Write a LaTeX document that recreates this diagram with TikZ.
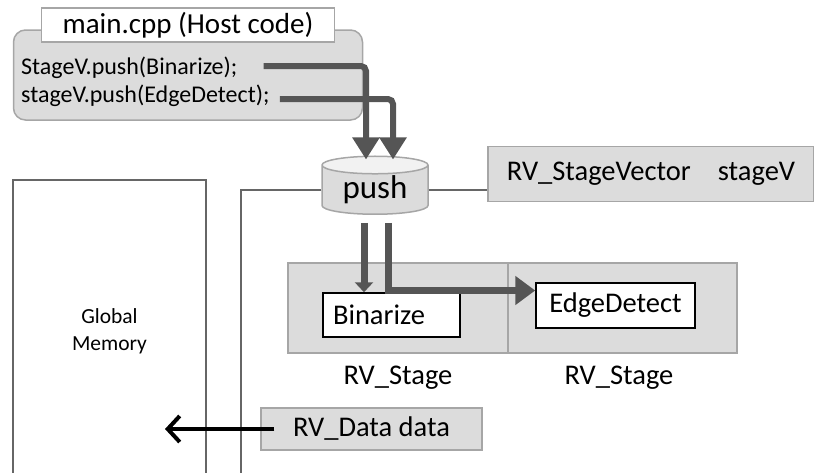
\documentclass[tikz,border=0pt]{standalone}
\usepackage{fontspec}
\setmainfont{Carlito}
\usetikzlibrary{arrows.meta,shapes.geometric}
\definecolor{boxgray}{HTML}{DCDCDC}
\definecolor{edgegray}{HTML}{A6A6A6}
\definecolor{arrowgray}{HTML}{555555}
\definecolor{linegray}{HTML}{666666}

\begin{document}
\begin{tikzpicture}[x=1pt, y=-1pt,
  graybox/.style={draw=edgegray, fill=boxgray, line width=1.5pt, inner sep=0pt},
  whitebox/.style={draw=black, fill=white, line width=1.5pt, inner sep=0pt},
  thinline/.style={draw=linegray, line width=1.8pt},
  fatarrow/.style={draw=arrowgray, line width=6pt, rounded corners=5pt,
    -{Triangle[width=26pt, length=22pt]}},
  downarrow/.style={draw=arrowgray, line width=7pt},
  big/.style={font=\fontsize{28.5}{30}\selectfont},
  code/.style={anchor=west, inner sep=0pt, font=\fontsize{24}{26}\selectfont}]
  \useasboundingbox (0,0) rectangle (814,472);
  \clip (0,0) rectangle (814,472);
  % host side
  \node[graybox, rounded corners=12pt, minimum width=349pt,
    minimum height=90pt] (host) at (188,75) {};
  \node[draw=edgegray, fill=white, line width=1.5pt, inner sep=0pt,
    minimum width=293pt, minimum height=34pt,
    font=\fontsize{29}{30}\selectfont] (title) at (188,25) {main.cpp (Host code)};
  \node[code] (code1) at (21,68) {StageV.push(Binarize);};
  \node[code] (code2) at (21,96) {stageV.push(EdgeDetect);};
  % stage vector
  \node[cylinder, shape border rotate=90, draw=edgegray, line width=1.5pt,
    cylinder uses custom fill, cylinder body fill=boxgray,
    cylinder end fill=gray!10, aspect=0.27, minimum width=106pt,
    minimum height=58pt, inner sep=0pt,
    font=\fontsize{33}{34}\selectfont] (push) at (375,190) {\raisebox{-4pt}{push}};
  \node[graybox, minimum width=326pt, minimum height=55pt, big] (vec)
    at (651,174) {RV\_StageVector\hspace{27pt}stageV};
  \node[draw=linegray, line width=2pt, minimum width=193pt,
    minimum height=302pt, align=center,
    font=\fontsize{21.5}{27}\selectfont] (mem) at (109.5,331) {Global\\Memory};
  % stages
  \node[graybox, minimum width=220pt, minimum height=90pt] (stage1) at (398,308) {};
  \node[graybox, minimum width=229pt, minimum height=90pt] (stage2) at (622.5,308) {};
  \node[whitebox, minimum width=137pt, minimum height=44pt, text width=117pt,
    align=left, big] (bin) at (391.5,315) {Binarize};
  \node[whitebox, minimum width=159pt, minimum height=45pt, big] (edge)
    at (615.5,305.5) {EdgeDetect};
  \node[big] (lbl1) at (398,378) {RV\_Stage};
  \node[big] (lbl2) at (619,378) {RV\_Stage};
  \node[graybox, minimum width=221pt, minimum height=42pt, big] (data)
    at (371.5,429) {RV\_Data data};
  % connectors
  \coordinate (lend) at (241,480);
  \coordinate (memin) at (165,429);
  \draw[thinline] (push.west) -| (lend);
  \draw[thinline] (push.east) -- (push.east -| vec.west);
  \draw[fatarrow] ([xshift=26pt, yshift=2pt]code1.east)
    -| ([xshift=-9pt, yshift=-4pt]push.north);
  \draw[fatarrow] ([xshift=10pt, yshift=-3pt]code2.east)
    -| ([xshift=18pt, yshift=-4pt]push.north);
  \draw[downarrow, -{Triangle[width=18pt, length=10pt]}]
    ([xshift=-11pt, yshift=-8pt]push.south)
    -- ([xshift=-11pt]push.south |- bin.north);
  \draw[downarrow, -{Triangle[width=28pt, length=20pt]}]
    ([xshift=13pt, yshift=-8pt]push.south) |- ([yshift=15pt]edge.west);
  \draw[line width=4pt, -{Straight Barb[length=12pt, width=26pt]}]
    ([xshift=14pt]data.west) -- (memin);
\end{tikzpicture}
\end{document}
